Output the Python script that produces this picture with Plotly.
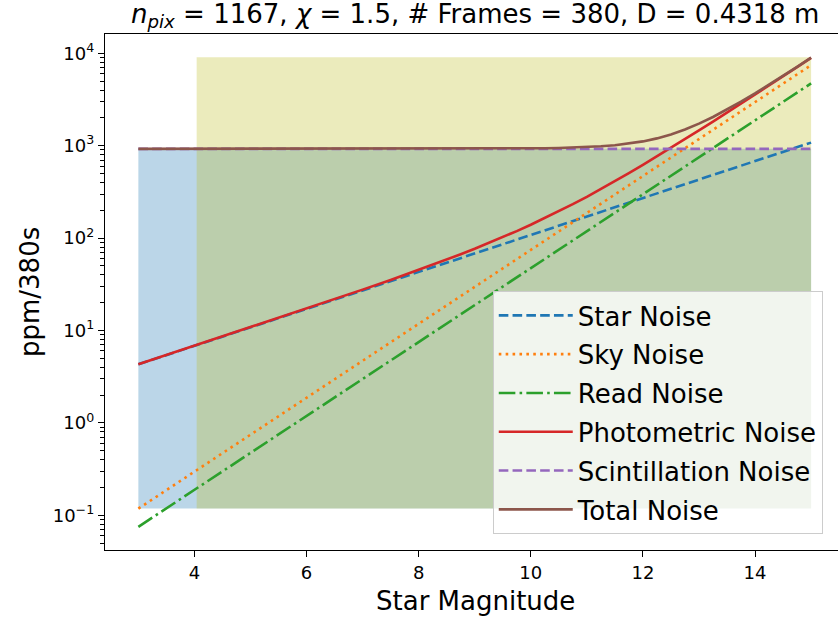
import plotly.graph_objects as go

# ---------------- data ----------------
mag = [3, 4, 5, 6, 7, 8, 9, 10, 11, 12, 13, 14, 15]
star_noise = [4.30, 6.82, 10.8, 17.1, 27.1, 43.0, 68.1, 108, 171, 271, 430, 681, 1080]
sky_noise = [0.118, 0.296, 0.745, 1.87, 4.70, 11.8, 29.6, 74.5, 187, 470, 1180, 2960, 7445]
read_noise = [0.075, 0.188, 0.473, 1.19, 2.99, 7.5, 18.8, 47.3, 119, 299, 750, 1880, 4730]

mag_fine = [3, 4, 5, 6, 7, 7.5, 8, 8.25, 8.5, 8.75, 9, 9.25, 9.5, 9.75, 10, 10.25, 10.5, 10.75,
            11, 11.25, 11.5, 11.75, 12, 12.25, 12.5, 12.75, 13, 13.25, 13.5, 13.75, 14, 14.25,
            14.5, 14.75, 15]
phot_noise = [4.30, 6.83, 10.85, 17.24, 27.67, 35.2, 45.2, 51.4, 58.5, 66.8, 76.6, 88.3, 102.3,
              119.1, 139.5, 164.4, 195, 232.9, 280, 338.7, 412, 503.9, 619, 764.0, 947, 1174.9,
              1463, 1825.1, 2281, 2855.1, 3572, 4487.1, 5678, 7073.3, 8932]
total_noise = [925.0, 925.0, 925.1, 925.2, 925.4, 925.7, 926.1, 926.4, 926.8, 927.4, 928.2, 929.2,
               930.6, 932.6, 935.5, 939.5, 945.4, 953.9, 966.4, 985.1, 1012.5, 1053.4, 1113,
               1199.7, 1323, 1495.3, 1731, 2046.1, 2461, 3001.2, 3690, 4581.4, 5753, 7133.5, 8980]

scint_mag = [3, 15]
scint_noise = [925, 925]

# shaded regions: [x0, x1], [y0, y1]
blue_x = [3.0, 15.0]
blue_y = [0.118, 925]
olive_x = [4.04, 15.0]
olive_y = [0.118, 9050]

labels = ["Star Noise", "Sky Noise", "Read Noise", "Photometric Noise",
          "Scintillation Noise", "Total Noise"]
colors = ["#1f77b4", "#ff7f0e", "#2ca02c", "#d62728", "#9467bd", "#8c564b"]

FONT = "DejaVu Sans"
LW = 2.6

fig = go.Figure()


def rect(xs, ys, color):
    return go.Scatter(
        x=[xs[0], xs[1], xs[1], xs[0], xs[0]],
        y=[ys[0], ys[0], ys[1], ys[1], ys[0]],
        mode="lines", fill="toself", fillcolor=color,
        line=dict(width=0), showlegend=False, hoverinfo="skip")


fig.add_trace(rect(blue_x, blue_y, "rgba(31,119,180,0.3)"))
fig.add_trace(rect(olive_x, olive_y, "rgba(188,189,34,0.3)"))

dash_dashed = f"{3.7*LW:.1f}px,{1.6*LW:.1f}px"
dash_dotted = f"{1.0*LW:.1f}px,{1.65*LW:.1f}px"
dash_dashdot = f"{6.4*LW:.1f}px,{1.6*LW:.1f}px,{1.0*LW:.1f}px,{1.6*LW:.1f}px"

series = [
    (mag, star_noise, dash_dashed),
    (mag, sky_noise, dash_dotted),
    (mag, read_noise, dash_dashdot),
    (mag_fine, phot_noise, "solid"),
    (scint_mag, scint_noise, dash_dashed),
    (mag_fine, total_noise, "solid"),
]
for i, (xs, ys, dash) in enumerate(series):
    fig.add_trace(go.Scatter(
        x=xs, y=ys, mode="lines", name=labels[i], legendgroup=labels[i],
        line=dict(color=colors[i], width=LW, dash=dash)))

major_y = [0.1, 1, 10, 100, 1000, 10000]
major_y_text = ["10<sup>−1</sup>", "10<sup>0</sup>", "10<sup>1</sup>", "10<sup>2</sup>",
                "10<sup>3</sup>", "10<sup>4</sup>"]
minor_y = []
for dec in [0.01, 0.1, 1, 10, 100, 1000, 10000]:
    for k in range(2, 10):
        v = dec * k
        if 0.042 < v < 16000:
            minor_y.append(v)

fig.update_layout(
    width=838, height=617,
    margin=dict(l=105, r=0, t=34, b=67),
    paper_bgcolor="white", plot_bgcolor="white",
    font=dict(family=FONT, color="black"),
    showlegend=True,
    legend=dict(
        x=0.529, y=0.502, xanchor="left", yanchor="top",
        bgcolor="rgba(255,255,255,0.8)", bordercolor="#cccccc", borderwidth=1,
        font=dict(family=FONT, size=26, color="black"),
        tracegroupgap=2, itemwidth=74,
    ),
    xaxis=dict(
        range=[2.405, 15.48], showgrid=False, zeroline=False,
        showline=True, linecolor="black", linewidth=1.4, mirror=True,
        ticks="outside", ticklen=6, tickwidth=1.4, tickcolor="black",
        tickvals=[4, 6, 8, 10, 12, 14],
        tickfont=dict(family=FONT, size=18, color="black"),
    ),
    yaxis=dict(
        type="log", range=[-1.376, 4.209], showgrid=False, zeroline=False,
        showline=True, linecolor="black", linewidth=1.4, mirror=False,
        ticks="outside", ticklen=6, tickwidth=1.4, tickcolor="black",
        tickmode="array", tickvals=major_y, ticktext=major_y_text,
        tickfont=dict(family=FONT, size=18, color="black"),
        minor=dict(tickmode="array", tickvals=minor_y, ticks="outside",
                   ticklen=3.5, tickwidth=1.1, tickcolor="black", showgrid=False),
    ),
    annotations=[
        dict(text="<i>n</i><sub><i>pix</i></sub> = 1167, <i>χ</i> = 1.5, # Frames = 380, D = 0.4318 m",
             xref="paper", yref="paper", x=0.5048, y=1.036, xanchor="center", yanchor="middle",
             showarrow=False, font=dict(family=FONT, size=26, color="black")),
        dict(text="Star Magnitude", xref="paper", yref="paper", x=0.5048, y=-0.098,
             xanchor="center", yanchor="middle", showarrow=False,
             font=dict(family=FONT, size=26, color="black")),
        dict(text="ppm/380s", xref="paper", yref="paper", x=-0.1023, y=0.5,
             xanchor="center", yanchor="middle", textangle=-90, showarrow=False,
             font=dict(family=FONT, size=26, color="black")),
    ],
)

fig.write_html("out.html")
